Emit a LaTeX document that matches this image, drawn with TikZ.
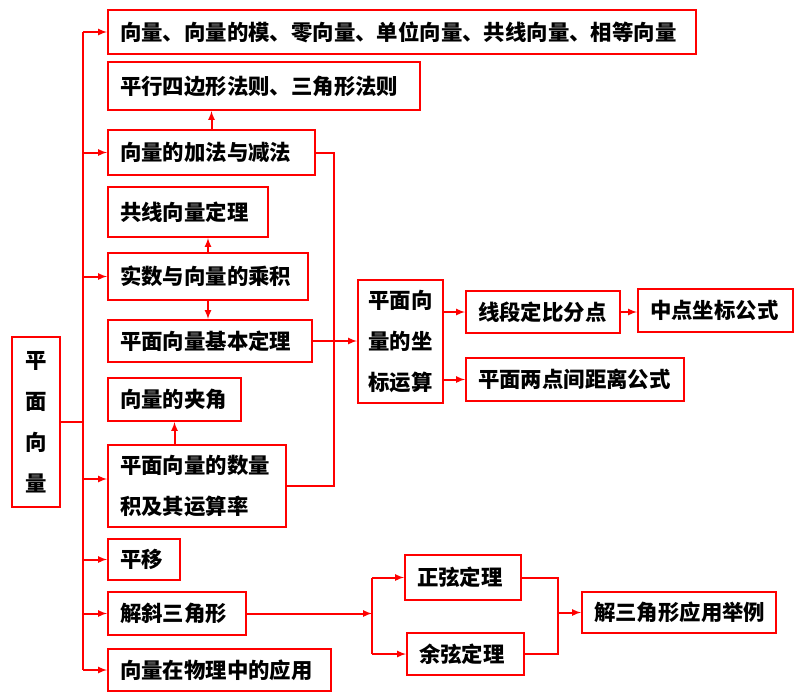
\documentclass[tikz,border=0pt]{standalone}
\usepackage{fontspec}
\setmainfont{Noto Sans CJK SC}
\usetikzlibrary{arrows}

\begin{document}
\begin{tikzpicture}[x=1pt,y=-1pt, red, line width=2pt,
  box/.style={draw=red, text=black, anchor=west, align=left, inner xsep=12pt, inner ysep=0pt,
    font=\fontsize{21.4}{41}\selectfont\bfseries},
  link/.style={-latex}]

\useasboundingbox (0,0) rectangle (810,697);

\node[box, text width=564pt, minimum height=44pt] (b1) at (107,32) {向量、向量的模、零向量、单位向量、共线向量、相等向量};
\node[box, text width=288pt, minimum height=48pt] (b2) at (107,86) {平行四边形法则、三角形法则};
\node[box, text width=183pt, minimum height=45pt] (b3) at (107,152.5) {向量的加法与减法};
\node[box, text width=136pt, minimum height=50pt] (b4) at (107,212) {共线向量定理};
\node[box, text width=176pt, minimum height=47pt] (b5) at (107,276.5) {实数与向量的乘积};
\node[box, text width=180pt, minimum height=42pt] (b6) at (107,341) {平面向量基本定理};
\node[box, text width=109pt, minimum height=43pt] (b7) at (107,399.5) {向量的夹角};
\node[box, text width=154pt, minimum height=82pt] (b8) at (107,486) {平面向量的数量\\积及其运算率};
\node[box, text width=48pt, minimum height=41pt] (b9) at (107,559.5) {平移};
\node[box, text width=114pt, minimum height=43pt] (b10) at (107,613.5) {解斜三角形};
\node[box, text width=199pt, minimum height=42pt] (b11) at (107,670) {向量在物理中的应用};

% left title and coordinate block
\node[box, inner xsep=4pt, text width=40pt, align=center, minimum height=170pt] (L) at (11,422) {平\\面\\向\\量};
\node[box, inner xsep=4pt, text width=77pt, align=center, minimum height=123pt] (C) at (357,341.5) {平面向\\量的坐\\标运算};

\node[box, text width=130pt, minimum height=42pt] (d1) at (465,312) {线段定比分点};
\node[box, text width=131pt, minimum height=43pt] (d2) at (637,310.5) {中点坐标公式};
\node[box, text width=194pt, minimum height=43pt] (d3) at (465,379.5) {平面两点间距离公式};

\node[box, text width=92pt, minimum height=45pt] (s1) at (404,577.5) {正弦定理};
\node[box, text width=93pt, minimum height=42pt] (s2) at (406,654) {余弦定理};
\node[box, text width=170pt, minimum height=41pt] (s3) at (581,612.5) {解三角形应用举例};

% spine
\coordinate (top) at (83,0);
\draw (b1.west -| top) -- (b11.west -| top);
\draw (L.east) -- (L.east -| top);
\foreach \n in {b1,b3,b5,b9,b10,b11}
  \draw[link] (\n.west -| top) -- (\n.west);
\draw[link] ([yshift=7pt]b8.west -| top) -- ([yshift=7pt]b8.west);

\draw[link] (b3.north) -- (b3.north |- b2.south);
\draw[link] (b5.north) -- (b5.north |- b4.south);
\draw[link] (b5.south) -- (b5.south |- b6.north);
\draw[link] (b7.south |- b8.north) -- (b7.south);

% to the coordinate block
\coordinate (bus) at (334,0);
\draw (b3.east) -| (bus |- b8.east) -- (b8.east);
\draw[link] (b6.east) -- (b6.east -| C.west);
\draw[link] (C.east |- d1.west) -- (d1.west);
\draw[link] (C.east |- d3.west) -- (d3.west);
\draw[link] (d1.east) -- (d1.east -| d2.west);

% triangles
\coordinate (fork) at (372,0);
\coordinate (join) at (558,0);
\draw[link] (b10.east) -- (b10.east -| fork);
\draw (s1.west -| fork) -- (s2.west -| fork);
\draw[link] (s1.west -| fork) -- (s1.west);
\draw[link] (s2.west -| fork) -- (s2.west);
\draw (s1.east) -| (join |- s2.east) -- (s2.east);
\draw[link] (join |- s3.west) -- (s3.west);

\end{tikzpicture}
\end{document}
